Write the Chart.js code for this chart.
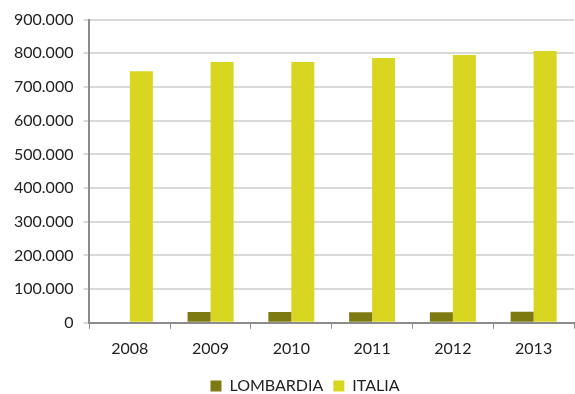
<!DOCTYPE html>
<html>
<head>
<meta charset="utf-8">
<script src="https://cdn.jsdelivr.net/npm/chart.js@4"></script>
<style>
  html,body{margin:0;padding:0;background:#fff}
  #wrap{width:575px;height:394px;position:relative}
</style>
</head>
<body>
<div id="wrap"><canvas id="chart-main"></canvas></div>
<script>
'use strict';

const years = ['2008','2009','2010','2011','2012','2013'];
const lombardia = [0, 32000, 32000, 31000, 31000, 33000];
const italia = [747000, 774000, 774000, 786000, 795000, 807000];
const yTicks = [0, 100000, 200000, 300000, 400000, 500000, 600000, 700000, 800000, 900000];

const fmtIt = v => v===0 ? '0' : v.toLocaleString('it-IT');
const font = {family:'Lato, "Liberation Sans", sans-serif', size:16};

// legend sits a bit right of centre in the original
const legendShift = {
  id:'legendShift',
  afterLayout(chart){ if(chart.legend){ chart.legend.left+=16; chart.legend.right+=16; } }
};

new Chart(document.getElementById('chart-main'), {
  type:'bar',
  data:{
    labels:years,
    datasets:[
      {label:'LOMBARDIA', data:lombardia, backgroundColor:'#7e7a12'},
      {label:'ITALIA', data:italia, backgroundColor:'#d8d620'}
    ]
  },
  options:{
    responsive:true, maintainAspectRatio:false, animation:false,
    layout:{padding:{top:19, right:1, left:4, bottom:-10}},
    datasets:{bar:{categoryPercentage:0.57, barPercentage:1}},
    plugins:{
      tooltip:{enabled:false},
      legend:{position:'bottom', labels:{color:'#222', font, boxWidth:11, boxHeight:11, padding:10}}
    },
    scales:{
      x:{
        grid:{drawOnChartArea:false, drawTicks:true, tickLength:6, color:'#8c8c8c', offset:true},
        border:{color:'#8c8c8c', width:2},
        ticks:{color:'#222', font, padding:10}
      },
      y:{
        min:0, max:900000,
        afterBuildTicks:s=>{ s.ticks = yTicks.map(v=>({value:v})); },
        grid:{color:'#d9d9d9', lineWidth:2, drawTicks:true, tickLength:6},
        border:{color:'#8c8c8c', width:2},
        ticks:{color:'#222', font, padding:10, callback:v=>fmtIt(v)}
      }
    }
  },
  plugins:[legendShift]
});
</script>
</body>
</html>
